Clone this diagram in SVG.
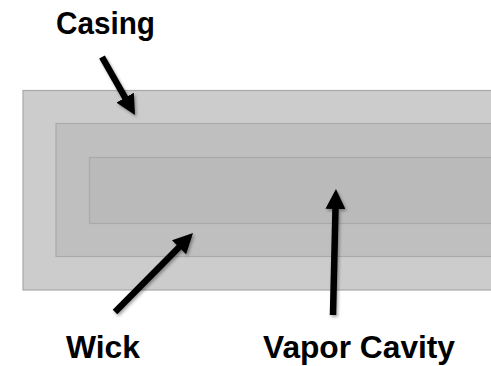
<svg xmlns="http://www.w3.org/2000/svg" width="491" height="366" viewBox="0 0 491 366">
  <style>
    .layer { stroke: #a9a9a9; stroke-width: 1.2; }
    .casing { fill: #cccccc; }
    .wick { fill: #bfbfbf; }
    .cavity { fill: #bababa; }
    .label { font-family: "Liberation Sans", Arial, sans-serif; font-weight: bold; font-size: 31px; fill: #000000; }
    .pointer { stroke: #000000; stroke-width: 6.5; fill: none; marker-end: url(#head); filter: url(#shade); }
  </style>
  <defs>
    <marker id="head" markerUnits="userSpaceOnUse" markerWidth="20" markerHeight="20" viewBox="0 0 20 20" refX="5" refY="10" orient="auto">
      <path d="M0,0 L20,10 L0,20 Z" fill="#000000"/>
    </marker>
    <filter id="shade" filterUnits="userSpaceOnUse" x="0" y="0" width="491" height="366">
      <feDropShadow dx="1.5" dy="2" stdDeviation="1.5" flood-color="#000000" flood-opacity="0.35"/>
    </filter>
  </defs>

  <!-- heat pipe cross-section layers -->
  <g id="casing">
    <rect class="layer casing" x="23" y="90.5" width="480" height="199.5"/>
  </g>
  <g id="wick">
    <rect class="layer wick" x="56" y="123.5" width="450" height="133"/>
  </g>
  <g id="vapor-cavity">
    <rect class="layer cavity" x="89.5" y="157.5" width="420" height="66"/>
  </g>

  <!-- labels -->
  <g id="label-casing">
    <text class="label" x="56" y="34" font-size="30" textLength="99" lengthAdjust="spacingAndGlyphs">Casing</text>
  </g>
  <g id="label-wick">
    <text class="label" x="66" y="358" textLength="74" lengthAdjust="spacingAndGlyphs">Wick</text>
  </g>
  <g id="label-vapor-cavity">
    <text class="label" x="263" y="358" textLength="192" lengthAdjust="spacingAndGlyphs">Vapor Cavity</text>
  </g>

  <!-- pointer arrows -->
  <g id="connectors">
    <line class="pointer" x1="102" y1="57" x2="127.6" y2="102"/>
    <line class="pointer" x1="115" y1="312" x2="182.5" y2="243.7"/>
    <line class="pointer" x1="333" y1="315" x2="335.6" y2="204"/>
  </g>
</svg>
